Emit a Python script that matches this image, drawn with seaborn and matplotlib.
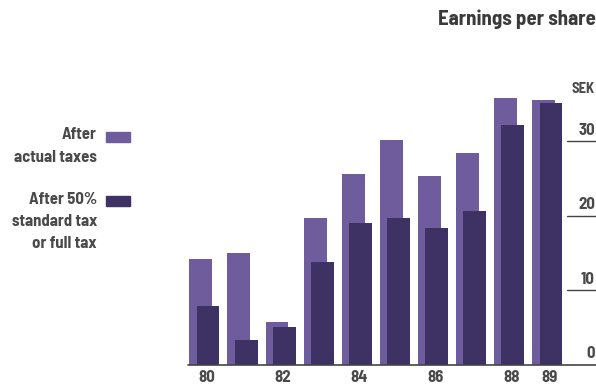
import matplotlib
matplotlib.use("Agg")
import matplotlib.pyplot as plt
import seaborn as sns
import pandas as pd
from matplotlib.patches import Rectangle

years = [80, 81, 82, 83, 84, 85, 86, 87, 88, 89]
actual_taxes = [14.1, 14.9, 5.7, 19.7, 25.6, 30.2, 25.3, 28.4, 35.8, 35.5]
standard_tax = [7.8, 3.3, 5.1, 13.8, 19.0, 19.7, 18.3, 20.6, 32.2, 35.1]
year_labels = ["80", "", "82", "", "84", "", "86", "", "88", "89"]
y_ticks = [0, 10, 20, 30]

LIGHT = "#6f5c9c"
DARK = "#3e3163"
TEXT = "#4a4a4a"
FONT = ["Barlow Semi Condensed", "Barlow Condensed", "DejaVu Sans"]

sns.set_theme(style="white")
plt.rcParams["font.family"] = FONT

fig = plt.figure(figsize=(5.96, 3.87), dpi=100)
W, H = 596, 387
ax = fig.add_axes([180 / W, (H - 364.5) / H, 416 / W, (364.5 - 66.5) / H])

offset = 0.19
df_a = pd.DataFrame({"x": years, "v": actual_taxes})
df_s = pd.DataFrame({"x": [y + offset for y in years], "v": standard_tax})

sns.barplot(data=df_a, x="x", y="v", native_scale=True, width=0.6,
            color=LIGHT, saturation=1, ax=ax, linewidth=0, zorder=2)
sns.barplot(data=df_s, x="x", y="v", native_scale=True, width=0.6,
            color=DARK, saturation=1, ax=ax, linewidth=0, zorder=3)

x0 = years[0] - 0.546
ax.set_xlim(x0, x0 + 416 / 38.1)
ax.set_ylim(0, 40)
for s in ax.spines.values():
    s.set_visible(False)
ax.set_xlabel("")
ax.set_ylabel("")
ax.set_yticks([])
ax.set_xticks([y + 0.15 for y in years])
ax.set_xticklabels(year_labels, fontsize=12, fontweight="bold", color=TEXT)
ax.tick_params(axis="x", length=0, pad=4)

# baseline
ax.axhline(0, xmin=(188 - 180) / 416, xmax=1, color="#444444", lw=1.2,
           zorder=4, clip_on=False)

# right-side value scale
tr = ax.get_yaxis_transform()
for t in y_ticks:
    if t > 0:
        ax.plot([1 - 29 / 416, 1], [t, t], transform=tr, color="#444444",
                lw=1, clip_on=False)
    ax.text(0.997, t + 0.45, str(t), transform=tr, ha="right", va="bottom",
            fontsize=12, fontweight="bold", color=TEXT)
ax.text(0.997, 36.0, "SEK", transform=tr, ha="right", va="bottom",
        fontsize=10.5, fontweight="bold", color=TEXT)

# title
fig.text(596 / W, 1 - 19 / H, "Earnings per share", ha="right", va="center",
         fontsize=15, fontweight="bold", color="#3a3a3a")

# legend (manual)
def label(y, s):
    fig.text(97 / W, 1 - y / H, s, ha="right", va="center",
             fontsize=12, fontweight="bold", color=TEXT)

label(135, "After")
label(157, "actual taxes")
fig.patches.append(Rectangle((106 / W, 1 - 142 / H), 24 / W, 10 / H,
                             transform=fig.transFigure, color=LIGHT))
label(200, "After 50%")
label(222, "standard tax")
label(243, "or full tax")
fig.patches.append(Rectangle((106 / W, 1 - 206 / H), 24 / W, 10 / H,
                             transform=fig.transFigure, color=DARK))

fig.savefig("out.png", dpi=100, facecolor="white")
